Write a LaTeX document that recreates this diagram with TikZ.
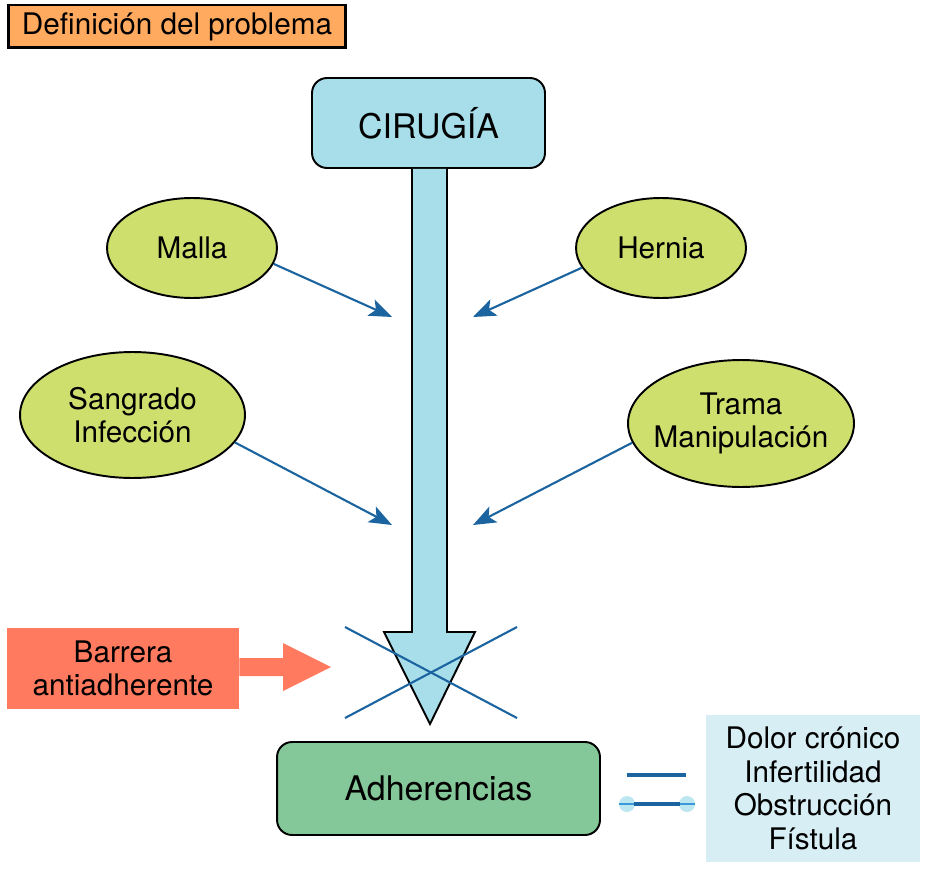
\documentclass[tikz,border=0pt]{standalone}
\usepackage{fontspec}
\setmainfont{TeX Gyre Heros}
\usetikzlibrary{shapes.geometric,arrows.meta,positioning}

\definecolor{titleorange}{HTML}{FFAA5F}
\definecolor{cirblue}{HTML}{A7DEEA}
\definecolor{factgreen}{HTML}{CEDF6E}
\definecolor{linkblue}{HTML}{1B64A0}
\definecolor{barsalmon}{HTML}{FF7A5E}
\definecolor{adhgreen}{HTML}{84C89A}
\definecolor{resultcyan}{HTML}{D6EEF4}
\definecolor{knobcyan}{HTML}{BCE7F0}

\tikzset{
    small text/.style={font=\fontsize{16.9}{19}\selectfont, align=center},
    big text/.style={font=\fontsize{19.3}{22}\selectfont, align=center},
    factor/.style={ellipse, draw=black, line width=1.1pt, fill=factgreen,
        inner sep=0pt, small text},
    mainbox/.style={rectangle, rounded corners=0.3cm, draw=black,
        line width=1.1pt, inner sep=0pt, big text},
    link/.style={linkblue, line width=1.2pt, -{Stealth[length=13pt,width=10pt,inset=3pt]}},
}

\begin{document}
\begin{tikzpicture}[x=0.02cm, y=-0.02cm]
    \useasboundingbox (0,0) rectangle (925,868);
    % title
    \node[draw=black, line width=1.7pt, fill=titleorange, minimum width=6.76cm,
        minimum height=0.86cm, inner sep=0pt, small text] (title) at (177,26.5)
        {Definición del problema};
    % main boxes
    \node[mainbox, fill=cirblue, minimum width=4.66cm, minimum height=1.8cm]
        (cirugia) at (428.5,123) {CIRUGÍA};
    \node[mainbox, fill=adhgreen, minimum width=6.46cm, minimum height=1.86cm]
        (adherencias) at (438.5,788.5) {Adherencias};
    % big arrow
    \coordinate (tip) at (430,724);
    \filldraw[fill=cirblue, draw=black, line width=1.1pt]
        (cirugia.south -| 412,0) -- (412,632) -- (384,632) -- (tip)
        -- (475,632) -- (447,632) -- (cirugia.south -| 447,0);
    % factors
    \node[factor, minimum width=3.4cm, minimum height=2cm] (malla) at (192,248) {Malla};
    \node[factor, minimum width=3.4cm, minimum height=2cm] (hernia) at (661,248) {Hernia};
    \node[factor, inner xsep=-8pt, minimum width=4.5cm, minimum height=2.52cm]
        (sangrado) at (132.5,415) {Sangrado\\Infección};
    \node[factor, inner xsep=-8pt, minimum width=4.52cm, minimum height=2.54cm]
        (trama) at (741,423.5) {Trama\\Manipulación};
    % arrows to the shaft
    \coordinate (m1) at (392,317);
    \coordinate (h1) at (473,317);
    \coordinate (s1) at (392,525);
    \coordinate (t1) at (473,525);
    \draw[link] (malla.-11) -- (m1);
    \draw[link] (hernia.-166) -- (h1);
    \draw[link] (sangrado.-15) -- (s1);
    \draw[link] (trama.-170) -- (t1);
    % cross
    \coordinate (c1) at (345,627);
    \coordinate (c2) at (517,718);
    \coordinate (c3) at (345,718);
    \coordinate (c4) at (517,627);
    \draw[linkblue, line width=1.2pt] (c1) -- (c2);
    \draw[linkblue, line width=1.2pt] (c3) -- (c4);
    % barrier
    \node[fill=barsalmon, minimum width=4.64cm, minimum height=1.62cm, inner sep=0pt,
        small text] (barrera) at (123,668.5) {Barrera\\antiadherente};
    \fill[barsalmon] (barrera.east |- 0,658) -- (283,658) -- (283,643) -- (331,667)
        -- (283,691) -- (283,676) -- (barrera.east |- 0,676) -- cycle;
    % results
    \node[fill=resultcyan, minimum width=4.28cm, minimum height=2.94cm, inner sep=0pt,
        font=\fontsize{16.9}{19.2}\selectfont, align=center] (result) at (813,788.5)
        {Dolor crónico\\Infertilidad\\Obstrucción\\Fístula};
    % equals sign
    \draw[linkblue, line width=2.8pt] (627,775) -- (686,775);
    \fill[knobcyan] (627,804) circle (8);
    \fill[knobcyan] (687,804) circle (8);
    \draw[cyan!70!blue!80, line width=1pt] (619,804) -- (695,804);
    \draw[linkblue, line width=2.8pt] (634,804) -- (680,804);
\end{tikzpicture}
\end{document}
